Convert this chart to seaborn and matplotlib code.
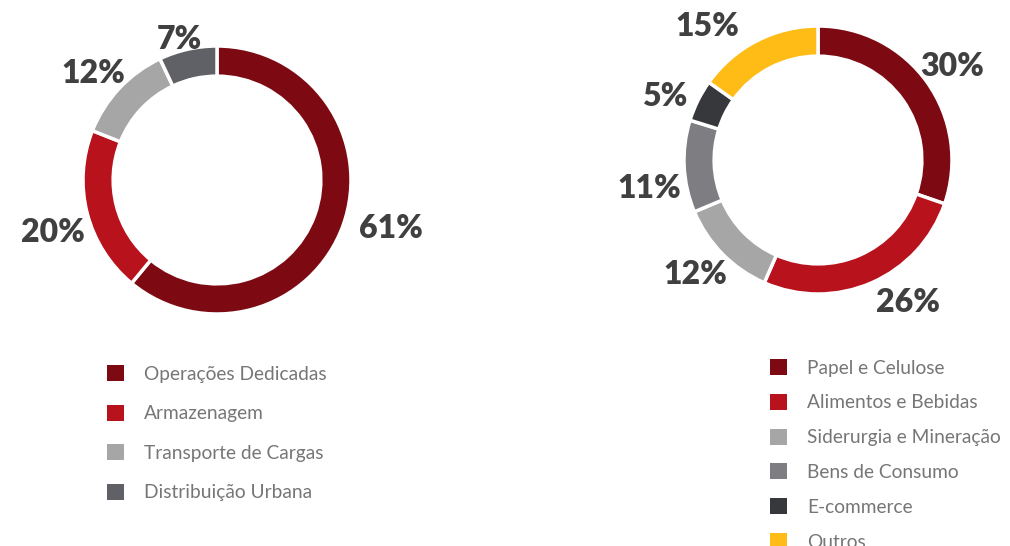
import numpy as np
import matplotlib
matplotlib.use("Agg")
import matplotlib.pyplot as plt
import seaborn as sns
from matplotlib.patches import Patch

# ---- data ----
left_labels = ["Operações Dedicadas", "Armazenagem", "Transporte de Cargas", "Distribuição Urbana"]
left_values = [61, 20, 12, 7]
left_colors = ["#7d0a12", "#b8131c", "#a6a6a6", "#5f6166"]

right_labels = ["Papel e Celulose", "Alimentos e Bebidas", "Siderurgia e Mineração",
                "Bens de Consumo", "E-commerce", "Outros"]
right_values = [30, 26, 12, 11, 5, 15]
right_colors = ["#7d0a12", "#b8131c", "#a6a6a6", "#7d7d82", "#37383c", "#ffbc17"]

# label layout (radial distance in radius units, angular nudge in degrees)
left_dist = [1.34, 1.28, 1.23, 1.10]
left_nudge = [5, 2.5, 2, 2]
right_dist = [1.23, 1.24, 1.24, 1.27, 1.25, 1.31]
right_nudge = [0, 9, -2, 6, 3, 12]

sns.set_theme(style="white")
plt.rcParams["font.family"] = ["Lato", "DejaVu Sans"]

W, H = 1010, 546
fig = plt.figure(figsize=(W / 100, H / 100), dpi=100)

R_PX = 134
HALF = 200


def make_ax(cx, cy):
    ax = fig.add_axes([(cx - HALF) / W, (H - cy - HALF) / H, 2 * HALF / W, 2 * HALF / H])
    return ax


def donut(ax, values, colors, dist, nudge):
    wedges, _ = ax.pie(values, colors=colors, startangle=90, counterclock=False,
                       radius=1.0,
                       wedgeprops=dict(width=0.225, edgecolor="white", linewidth=2.5))
    lim = HALF / R_PX
    ax.set_xlim(-lim, lim)
    ax.set_ylim(-lim, lim)
    ax.set_aspect("equal")
    ax.axis("off")
    for w, v, d, n in zip(wedges, values, dist, nudge):
        ang = np.deg2rad((w.theta1 + w.theta2) / 2 + n)
        ax.text(d * np.cos(ang), d * np.sin(ang), f"{v}%", ha="center", va="center_baseline",
                fontsize=23, fontweight="heavy", color="#404040", clip_on=False)
    return wedges


axL = make_ax(217, 180)
donut(axL, left_values, left_colors, left_dist, left_nudge)
axR = make_ax(818, 160)
donut(axR, right_values, right_colors, right_dist, right_nudge)


def legend(handles_colors, labels, x, y, spacing):
    handles = [Patch(facecolor=c, edgecolor="none") for c in handles_colors]
    leg = fig.legend(handles, labels, loc="upper left",
                     bbox_to_anchor=(x / W, 1 - y / H), bbox_transform=fig.transFigure,
                     frameon=False, fontsize=13.8, handlelength=0.9, handleheight=0.9,
                     handletextpad=1.05, labelspacing=spacing, borderpad=0, borderaxespad=0)
    for t in leg.get_texts():
        t.set_color("#767676")
    return leg


legend(left_colors, left_labels, 107, 365, 1.15)
legend(right_colors, right_labels, 770, 359, 0.9)

fig.savefig("out.png", dpi=100, facecolor="white")
